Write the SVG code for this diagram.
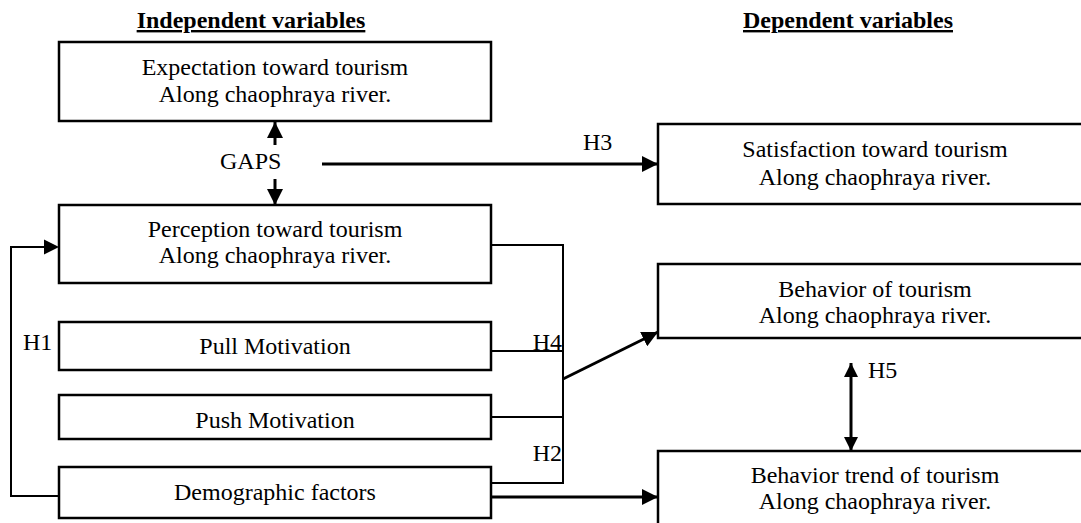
<svg xmlns="http://www.w3.org/2000/svg" width="1081" height="523" viewBox="0 0 1081 523" font-family="'Liberation Serif', 'Times New Roman', 'DejaVu Serif', serif">
<defs>
<marker id="ah" markerUnits="userSpaceOnUse" markerWidth="16" markerHeight="16" viewBox="0 0 15 15" refX="15" refY="7.5" orient="auto">
<path d="M0,0 L15,7.5 L0,15 z" fill="#000"/>
</marker>
<marker id="ahs" markerUnits="userSpaceOnUse" markerWidth="14" markerHeight="14" viewBox="0 0 13 13" refX="13" refY="6.5" orient="auto">
<path d="M0,0 L13,6.5 L0,13 z" fill="#000"/>
</marker>
</defs>
<style>
text{font-family:'Liberation Serif','Times New Roman','DejaVu Serif',serif;font-size:24px;fill:#000}
.c{text-anchor:middle}
.h{font-weight:bold;text-decoration:underline}
.box{fill:#fff;stroke:#000;stroke-width:2.5}
.thin{fill:none;stroke:#000;stroke-width:2}
.arr{fill:none;stroke:#000;stroke-width:3}
</style>
<rect width="1081" height="523" fill="#fff"/>
<text class="c h" x="251" y="28">Independent variables</text>
<text class="c h" x="848" y="28">Dependent variables</text>

<g id="connectors">
<polyline class="thin" points="491,245 563,245 563,483 491,483"/>
<line class="thin" x1="491" y1="351" x2="563" y2="351"/>
<line class="thin" x1="491" y1="417" x2="563" y2="417"/>
<polyline class="thin" points="59,496 11,496 11,247 44,247"/>
<path d="M44,239.5 L59,247 L44,254.5 z" fill="#000"/>
<line class="arr" x1="563" y1="379" x2="658" y2="332" marker-end="url(#ah)"/>
<line class="arr" x1="491" y1="497" x2="658" y2="497" marker-end="url(#ah)"/>
<line class="arr" x1="322" y1="164" x2="658" y2="164" marker-end="url(#ah)"/>
<line class="arr" x1="275" y1="145" x2="275" y2="122" marker-end="url(#ah)"/>
<line class="arr" x1="275" y1="179" x2="275" y2="205" marker-end="url(#ah)"/>
<line class="arr" x1="851" y1="400" x2="851" y2="363" marker-end="url(#ahs)"/>
<line class="arr" x1="851" y1="400" x2="851" y2="451" marker-end="url(#ahs)"/>
<text x="220" y="169">GAPS</text>
<text x="583" y="150">H3</text>
<text x="562" y="350" text-anchor="end">H4</text>
<text x="562" y="461" text-anchor="end">H2</text>
<text x="23" y="350">H1</text>
<text x="868" y="378">H5</text>
</g>

<g id="expectation">
<rect class="box" x="59" y="42" width="432" height="79"/>
<text class="c" x="275" y="75">Expectation toward tourism</text>
<text class="c" x="275" y="102">Along chaophraya river.</text>
</g>
<g id="perception">
<rect class="box" x="59" y="205" width="432" height="78"/>
<text class="c" x="275" y="237">Perception toward tourism</text>
<text class="c" x="275" y="263">Along chaophraya river.</text>
</g>
<g id="pull">
<rect class="box" x="59" y="322" width="432" height="48"/>
<text class="c" x="275" y="354">Pull Motivation</text>
</g>
<g id="push">
<rect class="box" x="59" y="395" width="432" height="44"/>
<text class="c" x="275" y="428">Push Motivation</text>
</g>
<g id="demographic">
<rect class="box" x="59" y="467" width="432" height="51"/>
<text class="c" x="275" y="500">Demographic factors</text>
</g>
<g id="satisfaction">
<rect class="box" x="658" y="124" width="440" height="80"/>
<text class="c" x="875" y="157">Satisfaction toward tourism</text>
<text class="c" x="875" y="185">Along chaophraya river.</text>
</g>
<g id="behavior">
<rect class="box" x="658" y="264" width="440" height="74"/>
<text class="c" x="875" y="297">Behavior of tourism</text>
<text class="c" x="875" y="323">Along chaophraya river.</text>
</g>
<g id="trend">
<rect class="box" x="658" y="451" width="440" height="90"/>
<text class="c" x="875" y="483">Behavior trend of tourism</text>
<text class="c" x="875" y="509">Along chaophraya river.</text>
</g>
</svg>
